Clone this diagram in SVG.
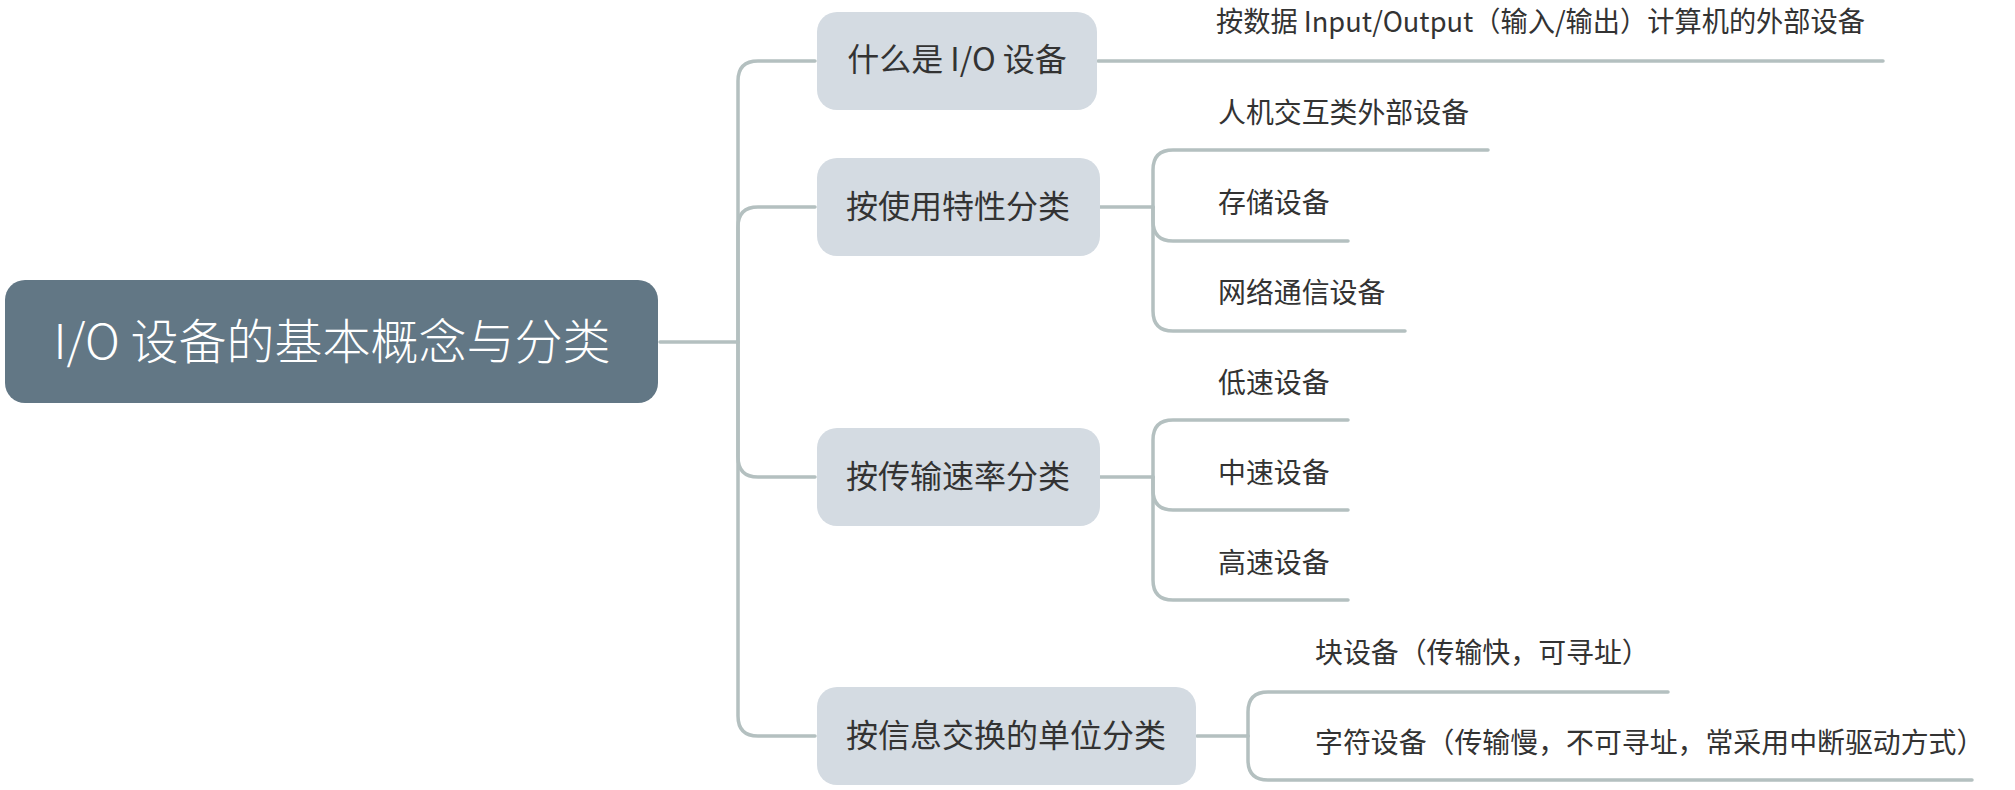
<svg xmlns="http://www.w3.org/2000/svg" width="2015" height="790" viewBox="0 0 2015 790">
<style>
.c{fill:none;stroke:#b4c0c0;stroke-width:3.5;stroke-linecap:round}
.l1 rect{fill:#d4dbe2}
.l1 text{font-family:"Noto Sans CJK SC","Noto Sans",sans-serif;font-size:32px;fill:#333;text-anchor:middle}
.l2 text{font-family:"Noto Sans CJK SC","Noto Sans",sans-serif;font-size:27.9px;fill:#333}
</style>
<rect width="2015" height="790" fill="#fff"/>
<g id="connectors">
<path class="c" d="M660 342 H738"/>
<path class="c" d="M738 342 V81 Q738 61 758 61 H815"/>
<path class="c" d="M738 342 V227 Q738 207 758 207 H815"/>
<path class="c" d="M738 342 V457 Q738 477 758 477 H815"/>
<path class="c" d="M738 342 V716 Q738 736 758 736 H815"/>
<path class="c" d="M1098 61 H1883"/>
<path class="c" d="M1100 207 H1153"/>
<path class="c" d="M1153 207 V170 Q1153 150 1173 150 H1488"/>
<path class="c" d="M1153 207 V221 Q1153 241 1173 241 H1348"/>
<path class="c" d="M1153 207 V311 Q1153 331 1173 331 H1405"/>
<path class="c" d="M1100 477 H1153"/>
<path class="c" d="M1153 477 V440 Q1153 420 1173 420 H1348"/>
<path class="c" d="M1153 477 V490 Q1153 510 1173 510 H1348"/>
<path class="c" d="M1153 477 V580 Q1153 600 1173 600 H1348"/>
<path class="c" d="M1197 736 H1248"/>
<path class="c" d="M1248 736 V712 Q1248 692 1268 692 H1668"/>
<path class="c" d="M1248 736 V760 Q1248 780 1268 780 H1972"/>
</g>
<g id="root">
<rect x="5" y="280" width="653" height="123" rx="20" fill="#627785"/>
<text x="332" y="359" font-family="Noto Sans CJK SC,Noto Sans,sans-serif" font-size="48" font-weight="300" fill="#fff" text-anchor="middle">I/O 设备的基本概念与分类</text>
</g>
<g id="n1" class="l1"><rect x="817" y="12" width="280" height="98" rx="20"/><text x="957" y="71">什么是 I/O 设备</text></g>
<g id="n2" class="l1"><rect x="817" y="158" width="283" height="98" rx="20"/><text x="958" y="218">按使用特性分类</text></g>
<g id="n3" class="l1"><rect x="817" y="428" width="283" height="98" rx="20"/><text x="958" y="488">按传输速率分类</text></g>
<g id="n4" class="l1"><rect x="817" y="687" width="379" height="98" rx="20"/><text x="1006" y="747">按信息交换的单位分类</text></g>
<g id="n1a" class="l2"><text x="1216" y="32" textLength="649" lengthAdjust="spacingAndGlyphs">按数据 Input/Output（输入/输出）计算机的外部设备</text></g>
<g id="n2a" class="l2"><text x="1218" y="123">人机交互类外部设备</text></g>
<g id="n2b" class="l2"><text x="1218" y="213">存储设备</text></g>
<g id="n2c" class="l2"><text x="1218" y="303">网络通信设备</text></g>
<g id="n3a" class="l2"><text x="1218" y="393">低速设备</text></g>
<g id="n3b" class="l2"><text x="1218" y="483">中速设备</text></g>
<g id="n3c" class="l2"><text x="1218" y="573">高速设备</text></g>
<g id="n4a" class="l2"><text x="1315" y="663">块设备（传输快，可寻址）</text></g>
<g id="n4b" class="l2"><text x="1315" y="753">字符设备（传输慢，不可寻址，常采用中断驱动方式）</text></g>
</svg>
